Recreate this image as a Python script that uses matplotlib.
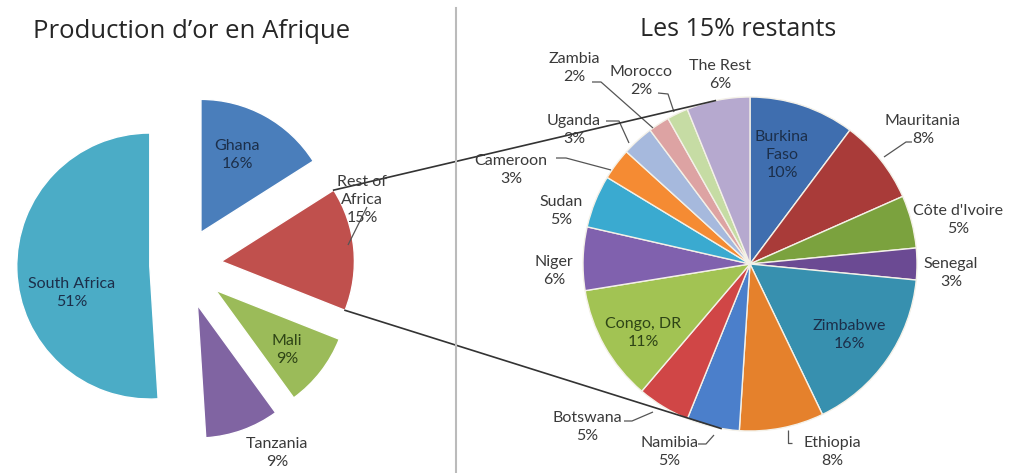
import math
import matplotlib
matplotlib.use("Agg")
import matplotlib.pyplot as plt

W, H = 1016, 473

# ---------------- data ----------------
left_labels = ["Ghana", "Rest of\nAfrica", "Mali", "Tanzania", "South Africa"]
left_values = [16, 15, 9, 9, 51]

right_labels = ["Burkina\nFaso", "Mauritania", "Côte d'Ivoire", "Senegal", "Zimbabwe",
                "Ethiopia", "Namibia", "Botswana", "Congo, DR", "Niger", "Sudan",
                "Cameroon", "Uganda", "Zambia", "Morocco", "The Rest"]
right_values = [10, 8, 5, 3, 16, 8, 5, 5, 11, 6, 5, 3, 3, 2, 2, 6]

title_left = "Production d’or en Afrique"
title_right = "Les 15% restants"

# ---------------- style ----------------
left_colors = ["#4A7EBB", "#C0504D", "#9BBB59", "#8064A2", "#4BACC6"]
left_explode = [0.28, 0.29, 0.31, 0.32, 0.25]
right_colors = ["#3F6EAF", "#A93B39", "#7BA23E", "#6B4A93", "#3790AF", "#E5812C",
                "#4B7FCB", "#D04646", "#A2C353", "#8061AE", "#3AAAD0", "#F58B33",
                "#A6B9DD", "#DDA3A3", "#C6DCA4", "#B6A9CF"]

LBL_FONT = ["Lato", "DejaVu Sans"]
TTL_FONT = ["Open Sans", "DejaVu Sans"]
LBL_SIZE = 11.5
LBL_SPACING = 1.4


def P(x, y):
    return (x, H - y)


fig = plt.figure(figsize=(W / 100, H / 100), dpi=100)
ax = fig.add_axes([0, 0, 1, 1])

# ---- left pie ----
lc = P(183, 265)
lr = 133
lw_, _ = ax.pie(left_values, colors=left_colors, startangle=90, counterclock=False,
                center=lc, radius=lr,
                wedgeprops=dict(edgecolor="white", linewidth=1.0))
for w, e in zip(lw_, left_explode):
    tm = math.radians(0.5 * (w.theta1 + w.theta2))
    w.set_center((lc[0] + e * lr * math.cos(tm), lc[1] + e * lr * math.sin(tm)))

# ---- right pie ----
rc = P(750, 264)
rr = 167
rw, _ = ax.pie(right_values, colors=right_colors, startangle=90, counterclock=False,
               center=rc, radius=rr,
               wedgeprops=dict(edgecolor="#F4F1E8", linewidth=1.0))

ax.set_xlim(0, W)
ax.set_ylim(0, H)
ax.set_aspect("auto")
ax.axis("off")

# ---- labels ----
inside_col = "#1C2F4A"
green_col = "#2E4416"
outside_col = "#3A3A3A"
left_lab_pos = [(237, 155, inside_col), (362, 200, outside_col), (287, 350, green_col),
                (277, 453, outside_col), (72, 293, inside_col)]
for lab, v, (x, y, c) in zip(left_labels, left_values, left_lab_pos):
    ax.text(*P(x, y), f"{lab}\n{v}%", ha="center", va="center", fontsize=LBL_SIZE,
            color=c, family=LBL_FONT, linespacing=LBL_SPACING)

right_lab_pos = [(782, 155, inside_col), (923, 130, outside_col), (958, 220, outside_col),
                 (951, 273, outside_col), (849, 335, inside_col), (832, 452, outside_col),
                 (669, 452, outside_col), (587, 427, outside_col), (643, 333, green_col),
                 (554, 271, outside_col), (561, 211, outside_col), (511, 170, outside_col),
                 (574, 130, outside_col), (574, 68, outside_col), (641, 81, outside_col),
                 (720, 75, outside_col)]
for lab, v, (x, y, c) in zip(right_labels, right_values, right_lab_pos):
    ax.text(*P(x, y), f"{lab}\n{v}%", ha="center", va="center", fontsize=LBL_SIZE,
            color=c, family=LBL_FONT, linespacing=LBL_SPACING)

# ---- leader lines (pixel polylines) ----
leaders = [
    [(912, 142), (906, 142), (884, 157)],      # Mauritania
    [(792, 443), (788, 443), (788, 430)],      # Ethiopia
    [(698, 444), (706, 444), (714, 435)],      # Namibia
    [(624, 421), (632, 421), (653, 412)],      # Botswana
    [(556, 158), (566, 158), (611, 170)],      # Cameroon
    [(606, 121), (619, 121), (629, 143)],      # Uganda
    [(592, 82), (601, 82), (653, 128)],        # Zambia
    [(658, 93), (668, 94), (674, 112)],        # Morocco
    [(367, 207), (348, 245)],                  # Rest of Africa
]
for pts in leaders:
    xs, ys = zip(*[P(x, y) for x, y in pts])
    ax.plot(xs, ys, color="#555555", lw=0.9, solid_capstyle="butt")

# ---- connector lines from Rest of Africa wedge to right pie ----
rw_rest = lw_[1]
cx, cy = rw_rest.center
top_pt = (cx + lr * math.cos(math.radians(rw_rest.theta2)),
          cy + lr * math.sin(math.radians(rw_rest.theta2)))
bot_pt = (cx + lr * math.cos(math.radians(rw_rest.theta1)),
          cy + lr * math.sin(math.radians(rw_rest.theta1)))
r_top = (rc[0] + rr * math.cos(math.radians(102)), rc[1] + rr * math.sin(math.radians(102)))
r_bot = (rc[0] + rr * math.cos(math.radians(260)), rc[1] + rr * math.sin(math.radians(260)))
ax.plot([top_pt[0], r_top[0]], [top_pt[1], r_top[1]], color="#333333", lw=1.2)
ax.plot([bot_pt[0], r_bot[0]], [bot_pt[1], r_bot[1]], color="#333333", lw=1.2)

# ---- divider + titles ----
ax.plot([456, 456], [H - 8, 0], color="#BBBBBB", lw=1.5)
ax.text(*P(192, 32), title_left, ha="center", va="center", fontsize=18.5,
        color="#262626", family=TTL_FONT)
ax.text(*P(738, 30), title_right, ha="center", va="center", fontsize=18,
        color="#262626", family=TTL_FONT)

fig.savefig("out.png", dpi=100, facecolor="white")
